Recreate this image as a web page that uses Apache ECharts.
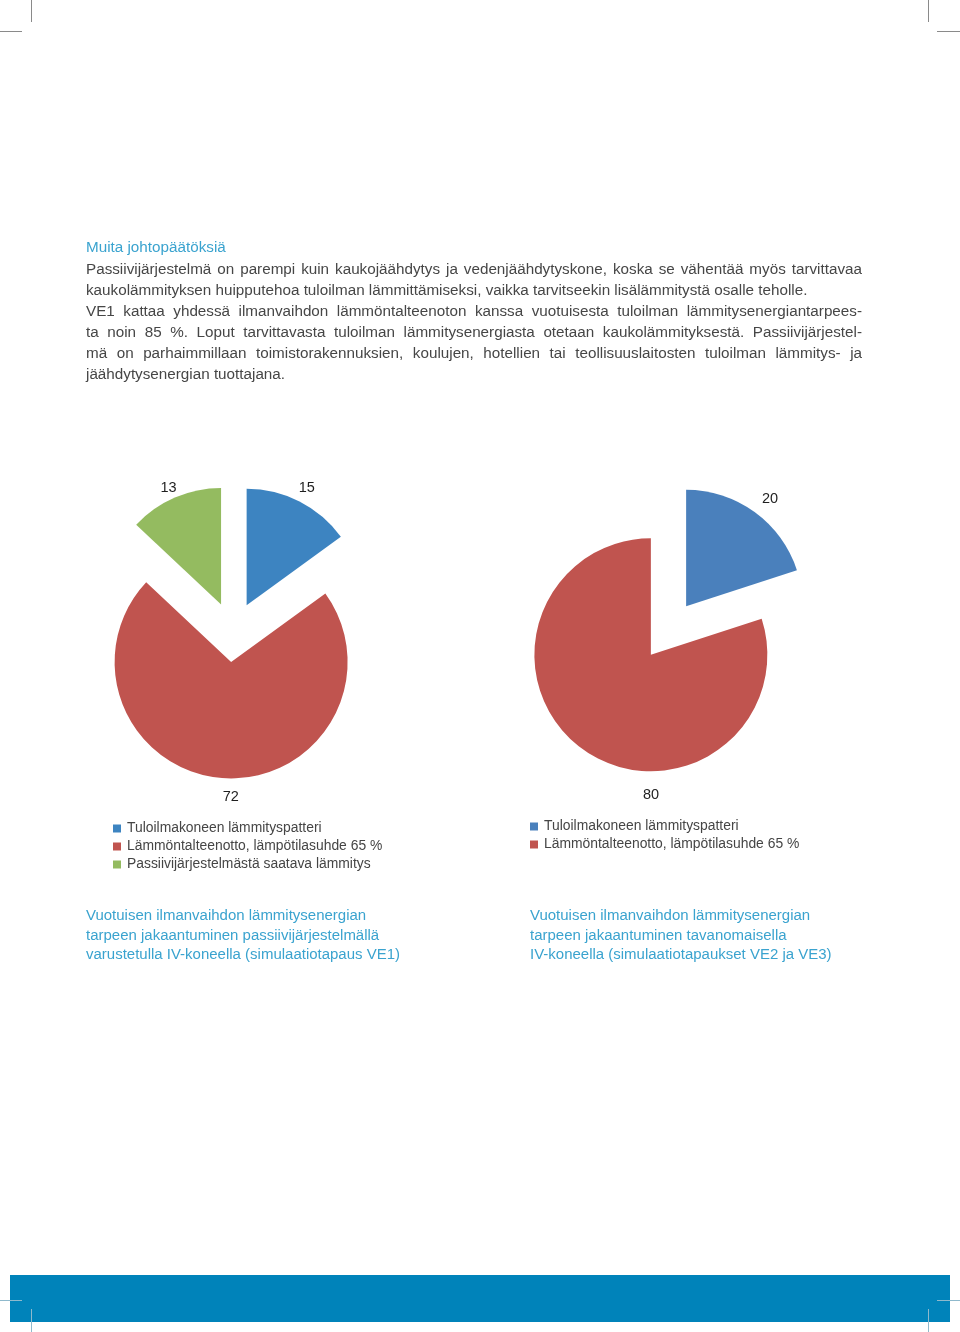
<!DOCTYPE html>
<html><head><meta charset="utf-8">
<script src="https://cdn.jsdelivr.net/npm/echarts@6/dist/echarts.min.js"></script>
<style>
html,body{margin:0;padding:0;background:#fff;}
#page{position:relative;width:960px;height:1332px;overflow:hidden;background:#fff;}
#chart{position:absolute;left:0;top:0;width:960px;height:1332px;}
.txt{position:absolute;font-family:"Liberation Sans",Arial,sans-serif;color:#464646;white-space:nowrap;}
.ln{display:block;white-space:nowrap;}
.j{text-align:justify;text-align-last:justify;}
.cyan{color:#3AA3CF;}
.mark{position:absolute;background:#8a8a8a;}
</style></head><body>
<div id="page">
  <div id="chart"></div>
  <div id="para" class="txt" style="left:86px;top:236.4px;width:776px;"></div>
  <div id="capL" class="txt cyan" style="left:86px;top:905px;"></div>
  <div id="capR" class="txt cyan" style="left:530px;top:905px;"></div>
  <div style="position:absolute;left:10px;top:1275px;width:940px;height:47px;background:#0083BA;"></div>
  <div class="mark" style="left:31px;top:0;width:1px;height:22px;"></div>
  <div class="mark" style="left:0;top:31px;width:22px;height:1px;"></div>
  <div class="mark" style="left:928px;top:0;width:1px;height:22px;"></div>
  <div class="mark" style="left:937px;top:31px;width:23px;height:1px;"></div>
  <div class="mark" style="left:0;top:1300px;width:22px;height:1px;background:#8fb9cc;"></div>
  <div class="mark" style="left:31px;top:1309px;width:1px;height:23px;background:#8fb9cc;"></div>
  <div class="mark" style="left:937px;top:1300px;width:23px;height:1px;background:#8fb9cc;"></div>
  <div class="mark" style="left:928px;top:1309px;width:1px;height:23px;background:#8fb9cc;"></div>
</div>
<script>
// ---- data ----
const categories = [
  'Tuloilmakoneen lämmityspatteri',
  'Lämmöntalteenotto, lämpötilasuhde 65 %',
  'Passiivijärjestelmästä saatava lämmitys'
];
const valuesVE1 = [15, 72, 13];
const valuesVE23 = [20, 80];
const colorsVE1 = ['#3D84C1', '#C0544F', '#94BB60'];
const colorsVE23 = ['#4A80BC', '#C0544F'];

const heading = 'Muita johtopäätöksiä';
const paraLines = [
  ['Passiivijärjestelmä on parempi kuin kaukojäähdytys ja vedenjäähdytyskone, koska se vähentää myös tarvittavaa', true],
  ['kaukolämmityksen huipputehoa tuloilman lämmittämiseksi, vaikka tarvitseekin lisälämmitystä osalle teholle.', false],
  ['VE1 kattaa yhdessä ilmanvaihdon lämmöntalteenoton kanssa vuotuisesta tuloilman lämmitysenergiantarpees-', true],
  ['ta noin 85 %. Loput tarvittavasta tuloilman lämmitysenergiasta otetaan kaukolämmityksestä. Passiivijärjestel-', true],
  ['mä on parhaimmillaan toimistorakennuksien, koulujen, hotellien tai teollisuuslaitosten tuloilman lämmitys- ja', true],
  ['jäähdytysenergian tuottajana.', false]
];
const captionLeft = ['Vuotuisen ilmanvaihdon lämmitysenergian', 'tarpeen jakaantuminen passiivijärjestelmällä', 'varustetulla IV-koneella (simulaatiotapaus VE1)'];
const captionRight = ['Vuotuisen ilmanvaihdon lämmitysenergian', 'tarpeen jakaantuminen tavanomaisella', 'IV-koneella (simulaatiotapaukset VE2 ja VE3)'];

// label fine placement (pixels) per slice
const labelNudgeVE1 = {0: [0, 1], 1: [8, 3], 2: [0, 5]};
const labelNudgeVE23 = {0: [6, 0], 1: [78, 33]};

// ---- text layout ----
const FAMILY = '"Liberation Sans", Arial, sans-serif';
function fit(texts, target) {
  const c = document.createElement('canvas').getContext('2d');
  c.font = '100px ' + FAMILY;
  let w = 0;
  texts.forEach(t => { w += c.measureText(t).width; });
  return 100 * target / w;
}
const bodySize = fit([paraLines[1][0]], 722);
const capSize = fit(captionLeft, 285 + 295 + 308);
const legSize = fit(categories, 193 + 260 + 241);

const para = document.getElementById('para');
para.style.fontSize = bodySize + 'px';
function addLine(parent, text, justify, cls, lh) {
  const d = document.createElement('div');
  d.className = 'ln' + (justify ? ' j' : '') + (cls ? ' ' + cls : '');
  d.style.height = lh + 'px';
  d.style.lineHeight = lh + 'px';
  d.textContent = text;
  parent.appendChild(d);
}
addLine(para, heading, false, 'cyan', 21.17);
paraLines.forEach(l => addLine(para, l[0], l[1], '', 21.17));
['capL', 'capR'].forEach((id, k) => {
  const el = document.getElementById(id);
  el.style.fontSize = capSize + 'px';
  (k ? captionRight : captionLeft).forEach(t => addLine(el, t, false, '', 19.5));
});

// ---- chart ----
const chart = echarts.init(document.getElementById('chart'), null, {renderer: 'canvas'});
function pieSeries(values, colors, center, nudge) {
  return {
    type: 'pie',
    center: center,
    radius: 116.5,
    startAngle: 90,
    clockwise: true,
    selectedMode: 'multiple',
    selectedOffset: 30,
    avoidLabelOverlap: false,
    silent: true,
    emphasis: {disabled: true},
    label: {
      show: true, position: 'outside', formatter: '{c}',
      color: '#1f1f1f', fontSize: 14.5, fontFamily: FAMILY, distanceToLabelLine: 0
    },
    labelLine: {show: false, length: 16, length2: 0},
    labelLayout: function (p) {
      const o = {align: 'center', verticalAlign: 'middle'};
      if (nudge && nudge[p.dataIndex]) {
        o.dx = nudge[p.dataIndex][0];
        o.dy = nudge[p.dataIndex][1];
      }
      return o;
    },
    itemStyle: {borderWidth: 0},
    data: values.map((v, i) => ({name: categories[i], value: v, selected: true, itemStyle: {color: colors[i]}}))
  };
}
function legendFor(n, colors, left, top) {
  return {
    orient: 'vertical', left: left, top: top, padding: 0,
    itemWidth: 8, itemHeight: 8, itemGap: 4, icon: 'rect', selectedMode: false,
    textStyle: {color: '#454545', fontSize: legSize, fontFamily: FAMILY, padding: [0, 0, 0, 1]},
    data: categories.slice(0, n).map((c, i) => ({name: c, itemStyle: {color: colors[i]}}))
  };
}
chart.setOption({
  animation: false,
  backgroundColor: 'transparent',
  legend: [
    legendFor(3, colorsVE1, 113, 821.5),
    legendFor(2, colorsVE23, 530, 819.5)
  ],
  series: [
    pieSeries(valuesVE1, colorsVE1, [233, 632], labelNudgeVE1),
    pieSeries(valuesVE23, colorsVE23, [668.5, 630.5], labelNudgeVE23)
  ]
});
</script>
</body></html>
